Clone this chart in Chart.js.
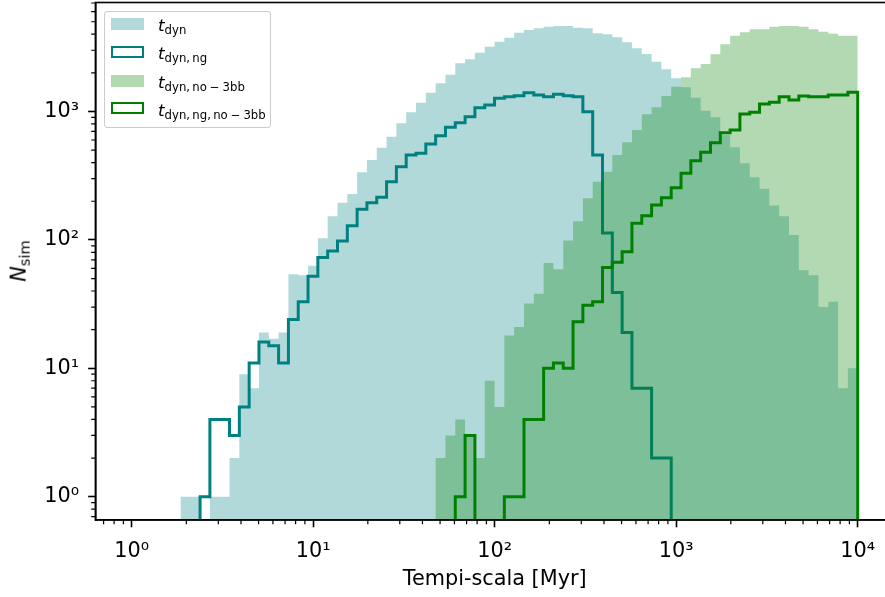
<!DOCTYPE html>
<html>
<head>
<meta charset="utf-8">
<title>Tempi-scala</title>
<script src="https://cdn.jsdelivr.net/npm/chart.js@4.4.1/dist/chart.umd.min.js"></script>
<style>
    body { margin: 0; background: #fff; }
    #wrap { position: relative; width: 885px; height: 597px; overflow: hidden; font-family: 'DejaVu Sans', sans-serif; color: #000; }
    #chart { position: absolute; left: 0; top: 0; }
    #legend { position: absolute; left: 104px; top: 11px; width: 165px; height: 115px; border: 1px solid #cccccc; border-radius: 3px; background: rgba(255, 255, 255, 0.8); }
    .handle { position: absolute; left: 111px; width: 33px; height: 12px; box-sizing: border-box; }
    .lab { position: absolute; left: 158px; font-size: 16.7px; line-height: 16.7px; white-space: nowrap; }
    .lab span { font-size: 11.7px; position: relative; top: 3px; }
    #ytitle { position: absolute; left: 20px; top: 261px; transform: translate(-50%, -50%) rotate(-90deg); font-size: 20.8px; line-height: 20.8px; white-space: nowrap; }
    #ytitle span { font-size: 14.6px; position: relative; top: 4px; }
</style>
</head>
<body>
<div id="wrap">
    <canvas id="chart" width="894" height="597"></canvas>
    <div id="ytitle"><i>N</i><span>sim</span></div>
    <div id="legend"></div>
    <div class="handle" style="top:18px; background: rgba(0,128,128,0.3);"></div>
    <div class="lab" style="top:17.4px;"><i>t</i><span>dyn</span></div>
    <div class="handle" style="top:46px; border: 2.5px solid #008080;"></div>
    <div class="lab" style="top:45.4px;"><i>t</i><span>dyn,&#8201;ng</span></div>
    <div class="handle" style="top:75px; background: rgba(0,128,0,0.3);"></div>
    <div class="lab" style="top:74.1px;"><i>t</i><span>dyn,&#8201;no&#8197;&#8722;&#8197;3bb</span></div>
    <div class="handle" style="top:102px; border: 2.5px solid #008000;"></div>
    <div class="lab" style="top:101.6px;"><i>t</i><span>dyn,&#8201;ng,&#8201;no&#8197;&#8722;&#8197;3bb</span></div>
</div>

<script>
// Log-spaced bins shared by all four histograms
const binLo = 1.856;
const binHi = 10000;
const nBins = 69;

// Counts per bin
const tDyn = [1, 1, 0, 1, 1, 2, 9, 7, 19, 17,
    19, 54, 53, 63, 103, 153, 195, 228, 336, 419,
    523, 637, 809, 986, 1171, 1400, 1658, 1935, 2374, 2550,
    2870, 3197, 3497, 3757, 4109, 4312, 4446, 4575, 4634, 4634,
    4494, 4446, 4064, 3992, 3784, 3459, 3106, 2804, 2443, 2132,
    1814, 1543, 1281, 1014, 901, 656, 526, 395, 307, 250,
    185, 153, 109, 58, 53, 30, 33, 7, 10];
const tDynNg = [0, 0, 1, 4, 4, 3, 5, 11, 16, 15,
    11, 24, 33, 52, 73, 82, 98, 129, 173, 195,
    215, 284, 372, 458, 472, 558, 648, 754, 818, 911,
    1071, 1124, 1267, 1304, 1328, 1400, 1345, 1304, 1361, 1328,
    1304, 996, 458, 113, 39, 19, 7, 7, 2, 2,
    0, 0, 0, 0, 0, 0, 0, 0, 0, 0,
    0, 0, 0, 0, 0, 0, 0, 0, 0];
const tDynNo3bb = [0, 0, 0, 0, 0, 0, 0, 0, 0, 0,
    0, 0, 0, 0, 0, 0, 0, 0, 0, 0,
    0, 0, 0, 0, 0, 0, 2, 3, 4, 3,
    2, 8, 5, 18, 21, 32, 38, 66, 59, 99,
    140, 211, 284, 340, 458, 575, 718, 951, 1078, 1321,
    1560, 1846, 2170, 2344, 2789, 3337, 3893, 4140, 4368, 4368,
    4575, 4634, 4634, 4575, 4368, 4183, 4036, 3893, 3893];
const tDynNgNo3bb = [0, 0, 0, 0, 0, 0, 0, 0, 0, 0,
    0, 0, 0, 0, 0, 0, 0, 0, 0, 0,
    0, 0, 0, 0, 0, 0, 0, 0, 1, 3,
    0, 0, 0, 1, 1, 4, 4, 10, 11, 10,
    23, 31, 33, 61, 67, 81, 135, 154, 187, 213,
    255, 330, 414, 481, 571, 684, 718, 956, 986, 1143,
    1180, 1304, 1229, 1321, 1304, 1304, 1345, 1345, 1411];

const xTicks = [1, 10, 100, 1000, 10000];
const yTicks = [1, 10, 100, 1000];
const xTitle = 'Tempi-scala [Myr]';

const TEAL = '#008080';
const GREEN = '#008000';
const FLOOR = 1e-3; // empty bins drop below the axis

const edges = [];
for (let i = 0; i <= nBins; i++) {
    edges.push(binLo * Math.pow(binHi / binLo, i / nBins));
}

// Turn bin counts into step points (x = left edge of each bin)
function steps(counts) {
    const pts = [{ x: edges[0], y: FLOOR }];
    counts.forEach((c, i) => pts.push({ x: edges[i], y: c > 0 ? c : FLOOR }));
    const last = counts[counts.length - 1];
    pts.push({ x: edges[nBins], y: last > 0 ? last : FLOOR });
    pts.push({ x: edges[nBins], y: FLOOR });
    return pts;
}

const SUP = { '0': '\u2070', '1': '\u00b9', '2': '\u00b2', '3': '\u00b3', '4': '\u2074' };
const powLabel = v => '10' + SUP[String(Math.round(Math.log10(v)))];

// keep the plot box fixed, whatever size the labels are
function fixBox(s, w, h) {
    if (w) s.width = w;
    if (h) s.height = h;
    s.paddingTop = 0;
    s.paddingBottom = 0;
    s.paddingLeft = 0;
    s.paddingRight = 0;
}

// minor log ticks and the top/right spines
const frame = {
    id: 'frame',
    afterDraw(chart) {
        const { ctx, chartArea: a, scales: { x, y } } = chart;
        ctx.save();
        ctx.strokeStyle = '#000';
        ctx.lineWidth = 1.2;
        ctx.beginPath();
        for (let d = -1; d <= 4; d++) {
            for (let m = 2; m <= 9; m++) {
                const v = m * Math.pow(10, d);
                if (v > x.min && v < x.max) {
                    const px = x.getPixelForValue(v);
                    ctx.moveTo(px, a.bottom);
                    ctx.lineTo(px, a.bottom + 4.2);
                }
                if (v > y.min && v < y.max) {
                    const py = y.getPixelForValue(v);
                    ctx.moveTo(a.left, py);
                    ctx.lineTo(a.left - 4.2, py);
                }
            }
        }
        ctx.stroke();
        ctx.lineWidth = 1.6;
        ctx.strokeRect(a.left, a.top, a.right - a.left, a.bottom - a.top);
        ctx.restore();
    }
};

Chart.defaults.font.family = "'DejaVu Sans', sans-serif";
Chart.defaults.color = '#000';

new Chart(document.getElementById('chart'), {
    type: 'line',
    data: {
        datasets: [
            { label: 't_dyn', data: steps(tDyn), stepped: true, borderWidth: 0, pointRadius: 0,
              fill: 'start', backgroundColor: 'rgba(0,128,128,0.3)', order: 3 },
            { label: 't_dyn,ng', data: steps(tDynNg), stepped: true, borderWidth: 3, pointRadius: 0,
              borderColor: TEAL, fill: false, order: 2 },
            { label: 't_dyn,no-3bb', data: steps(tDynNo3bb), stepped: true, borderWidth: 0, pointRadius: 0,
              fill: 'start', backgroundColor: 'rgba(0,128,0,0.3)', order: 1 },
            { label: 't_dyn,ng,no-3bb', data: steps(tDynNgNo3bb), stepped: true, borderWidth: 3, pointRadius: 0,
              borderColor: GREEN, fill: false, order: 0 }
        ]
    },
    options: {
        responsive: false,
        animation: false,
        devicePixelRatio: 1,
        layout: { padding: { top: 2.5, left: 0, right: 0, bottom: 0 } },
        plugins: { legend: { display: false }, tooltip: { enabled: false } },
        scales: {
            x: {
                type: 'logarithmic',
                bounds: 'data',
                min: Math.pow(10, -0.2),
                max: Math.pow(10, 4.2),
                afterFit: s => fixBox(s, 0, 77),
                afterBuildTicks: s => { s.ticks = xTicks.map(v => ({ value: v })); },
                ticks: { autoSkip: false, maxRotation: 0, padding: 12, font: { size: 20.8 }, callback: v => powLabel(v) },
                grid: { drawOnChartArea: false, tickLength: 7.3, tickWidth: 1.6, tickColor: '#000' },
                border: { color: '#000', width: 1.6 },
                title: { display: true, text: xTitle, font: { size: 20.8 }, padding: { top: 0, bottom: 5 } }
            },
            y: {
                type: 'logarithmic',
                bounds: 'data',
                min: Math.pow(10, -0.1815),
                max: Math.pow(10, 3.849),
                afterFit: s => fixBox(s, 95.4, 0),
                afterBuildTicks: s => { s.ticks = yTicks.map(v => ({ value: v })); },
                ticks: { autoSkip: false, padding: 9, font: { size: 20.8 }, callback: v => powLabel(v) },
                grid: { drawOnChartArea: false, tickLength: 7.3, tickWidth: 1.6, tickColor: '#000' },
                border: { color: '#000', width: 1.6 }
            }
        }
    },
    plugins: [frame]
});
</script>
</body>
</html>
